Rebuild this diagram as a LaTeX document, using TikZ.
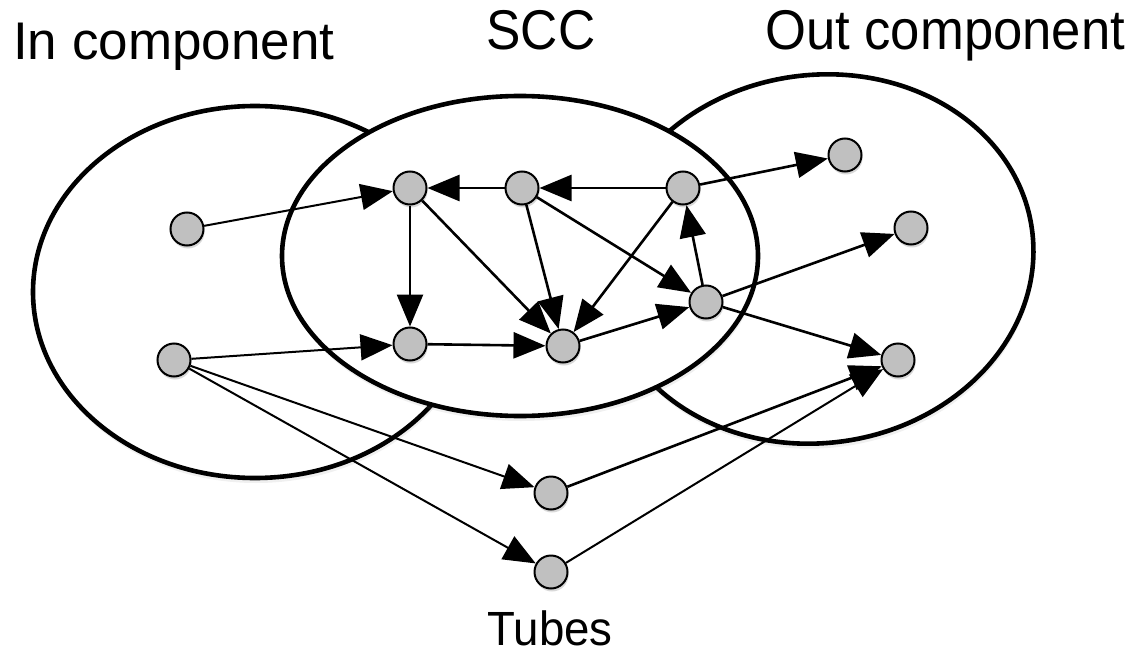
\documentclass[tikz,border=0pt]{standalone}
\usepackage{fontspec}
\setmainfont{Liberation Sans}
\usetikzlibrary{arrows.meta,shapes.geometric,shadows}
\definecolor{nodegray}{RGB}{192,192,192}
\tikzset{
  region/.style={ellipse, draw, fill=white, line width=4.6pt, inner sep=0pt,
    drop shadow={opacity=0.12, shadow xshift=1pt, shadow yshift=-5pt}},
  vtx/.style={circle, draw, fill=nodegray, line width=2pt, minimum size=33pt, inner sep=0pt,
    drop shadow={opacity=0.3, shadow xshift=1pt, shadow yshift=-3pt}},
  edge/.style={line width=2.6pt, -{Triangle[length=32pt,width=26pt]}},
  thinedge/.style={line width=2pt, -{Triangle[length=32pt,width=26pt]}},
  lbl/.style={font=\fontsize{53}{60}\selectfont, inner sep=0pt},
  biglbl/.style={font=\fontsize{56}{62}\selectfont, inner sep=0pt},
}
\begin{document}
\begin{tikzpicture}[x=1pt,y=-1pt]
\useasboundingbox (0,0) rectangle (1139,655);
% regions
\node[region, minimum width=432pt, minimum height=368pt, rotate=8] (outC) at (818,259) {};
\node[region, minimum width=444pt, minimum height=372pt] (inC) at (255,292) {};
\node[region, minimum width=476pt, minimum height=320pt] (scc) at (520,256) {};
% labels
\node[lbl, anchor=base west] (tIn) at (13,60) {In component};
\node[biglbl, anchor=base] (tScc) at (541,50) {\scalebox{0.92}[1]{SCC}};
\node[biglbl, anchor=base west] (tOut) at (765,50) {\scalebox{0.94}[1]{Out component}};
\node[font=\fontsize{48}{54}\selectfont, inner sep=0pt, anchor=base] (tTubes) at (550,645) {\scalebox{0.95}[1]{Tubes}};
% vertices
\node[vtx] (I1) at (187,229) {};
\node[vtx] (I2) at (174,360) {};
\node[vtx] (S1) at (410,188) {};
\node[vtx] (S2) at (522,188) {};
\node[vtx] (S3) at (683,188) {};
\node[vtx] (S4) at (410,344) {};
\node[vtx] (S5) at (563,346) {};
\node[vtx] (S6) at (706,302) {};
\node[vtx] (O1) at (845,155) {};
\node[vtx] (O2) at (911,228) {};
\node[vtx] (O3) at (898,360) {};
\node[vtx] (T1) at (551,493) {};
\node[vtx] (T2) at (551,572) {};
% edges
\draw[thinedge] (I1) -- (S1);
\draw[thinedge] (I2) -- (S4);
\draw[thinedge] (I2) -- (T1);
\draw[thinedge] (I2) -- (T2);
\draw[edge] (S2) -- (S1);
\draw[edge] (S3) -- (S2);
\draw[edge] (S1) -- (S4);
\draw[edge] (S1) -- (S5);
\draw[edge] (S2) -- (S5);
\draw[edge] (S2) -- (S6);
\draw[edge] (S3) -- (S5);
\draw[edge] (S4) -- (S5);
\draw[edge] (S5) -- (S6);
\draw[edge] (S6) -- (S3);
\draw[edge] (S3) -- (O1);
\draw[edge] (S6) -- (O2);
\draw[edge] (S6) -- (O3);
\draw[edge] (T1) -- (O3);
\draw[thinedge] (T2) -- (O3);
\end{tikzpicture}
\end{document}
